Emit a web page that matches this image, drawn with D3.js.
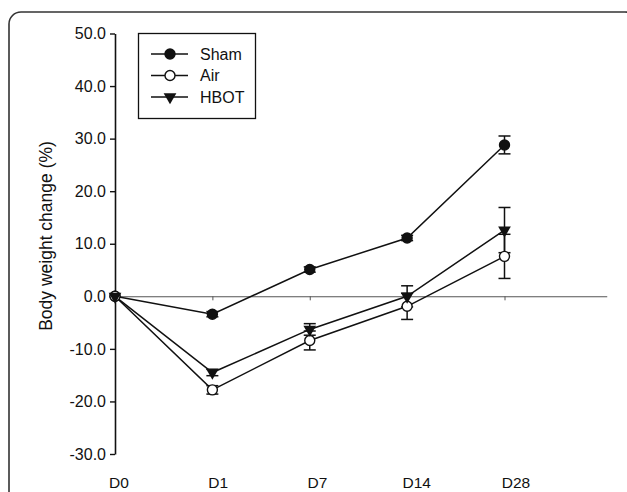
<!DOCTYPE html>
<html>
<head>
<meta charset="utf-8">
<script src="https://cdn.jsdelivr.net/npm/d3@7"></script>
<style>
  body { margin: 0; background: #fff; }
  svg text { font-family: "Liberation Sans", Arial, sans-serif; fill: #111; }
</style>
</head>
<body>
<div id="chart"></div>
<script>
// data
const days = ["D0", "D1", "D7", "D14", "D28"];
const yTicks = [-30, -20, -10, 0, 10, 20, 30, 40, 50];
const shamMean = [0, -3.4, 5.1, 11.1, 28.8];
const shamErr  = [0, 0.5, 0.5, 0.5, 1.7];
const airMean  = [0, -17.8, -8.4, -1.9, 7.6];
const airErr   = [0, 0.8, 1.8, 2.5, 4.2];
const hbotMean = [0, -14.5, -6.3, 0.0, 12.6];
const hbotErr  = [0, 0.6, 1.1, 2.0, 4.3];

const series = [
    { name: "Sham", mean: shamMean, err: shamErr, symbol: "filled" },
    { name: "Air",  mean: airMean,  err: airErr,  symbol: "open" },
    { name: "HBOT", mean: hbotMean, err: hbotErr, symbol: "tri" }
];

const W = 627, H = 492;
const svg = d3.select("#chart").append("svg")
    .attr("width", W)
    .attr("height", H);

// outer rounded frame
svg.append("rect")
    .attr("x", 9).attr("y", 12)
    .attr("width", 628).attr("height", 520)
    .attr("rx", 12)
    .attr("fill", "none")
    .attr("stroke", "#333")
    .attr("stroke-width", 1.6);

const x = d3.scaleLinear().domain([0, 4]).range([115, 504.5]);
const xEnd = 5.05; // zero line runs past the last day
const y = d3.scaleLinear().domain([-30, 50]).range([454, 33.5]);
// category labels sit a little right of their ticks
const xLab = d3.scaleLinear().domain([0, 4]).range([119, 516]);

// Y-axis
const yAxis = svg.append("g")
    .attr("transform", `translate(${x(0)},0)`)
    .call(d3.axisLeft(y).tickValues(yTicks).tickSize(5).tickSizeOuter(0)
        .tickFormat(d => d.toFixed(1)));
yAxis.select(".domain").attr("stroke", "#111").attr("stroke-width", 1.6);
yAxis.selectAll(".tick line").attr("stroke", "#111").attr("stroke-width", 1.4);
yAxis.selectAll(".tick text")
    .attr("x", -9)
    .style("font-size", "16px")
    .style("font-family", "Liberation Sans, Arial, sans-serif")
    .attr("fill", "#111");

// zero line with small ticks
const xz = d3.scaleLinear().domain([0, xEnd]).range([x(0), x(xEnd)]);
const zAxis = svg.append("g")
    .attr("transform", `translate(0,${y(0)})`)
    .call(d3.axisBottom(xz).tickValues(d3.range(days.length)).tickSize(4)
        .tickSizeOuter(0).tickFormat(""));
zAxis.select(".domain").attr("stroke", "#555").attr("stroke-width", 1.1);
zAxis.selectAll(".tick line").attr("stroke", "#555");

// day labels
svg.append("g").selectAll("text")
    .data(days)
    .enter()
    .append("text")
    .attr("x", (d, i) => xLab(i))
    .attr("y", 488)
    .attr("text-anchor", "middle")
    .style("font-size", "15.5px")
    .text(d => d);

// y-axis label
svg.append("text")
    .attr("transform", "rotate(-90)")
    .attr("x", -236)
    .attr("y", 52)
    .attr("text-anchor", "middle")
    .style("font-size", "17.5px")
    .text("Body weight change (%)");

const line = d3.line()
    .x((d, i) => x(i))
    .y(d => y(d));

const triPath = d3.symbol().type(d3.symbolTriangle).size(70)();

function drawMarker(g, kind, cx, cy) {
    if (kind === "tri") {
        g.append("path")
            .attr("d", triPath)
            .attr("transform", `translate(${cx},${cy}) rotate(180)`)
            .attr("fill", "#111");
    } else {
        g.append("circle")
            .attr("cx", cx).attr("cy", cy).attr("r", 5)
            .attr("fill", kind === "filled" ? "#111" : "#fff")
            .attr("stroke", "#111")
            .attr("stroke-width", 1.4);
    }
}

const plot = svg.append("g");

series.forEach(s => {
    // error bars
    const eb = plot.append("g");
    s.mean.forEach((m, i) => {
        if (!s.err[i]) return;
        const cx = x(i), y1 = y(m - s.err[i]), y2 = y(m + s.err[i]);
        eb.append("line").attr("x1", cx).attr("x2", cx).attr("y1", y1).attr("y2", y2);
        eb.append("line").attr("x1", cx - 6).attr("x2", cx + 6).attr("y1", y1).attr("y2", y1);
        eb.append("line").attr("x1", cx - 6).attr("x2", cx + 6).attr("y1", y2).attr("y2", y2);
    });
    eb.selectAll("line").attr("stroke", "#111").attr("stroke-width", 1.5);

    plot.append("path")
        .datum(s.mean)
        .attr("d", line)
        .attr("fill", "none")
        .attr("stroke", "#111")
        .attr("stroke-width", 1.5);
});

// markers on top
series.forEach(s => {
    const mg = plot.append("g");
    s.mean.forEach((m, i) => drawMarker(mg, s.symbol, x(i), y(m)));
});

// legend
const legend = svg.append("g");
legend.append("rect")
    .attr("x", 138.5).attr("y", 33.5)
    .attr("width", 117).attr("height", 85)
    .attr("fill", "#fff")
    .attr("stroke", "#111")
    .attr("stroke-width", 1.3);
series.forEach((s, i) => {
    const ly = 54 + i * 21.5;
    legend.append("line")
        .attr("x1", 151).attr("x2", 188)
        .attr("y1", ly).attr("y2", ly)
        .attr("stroke", "#111").attr("stroke-width", 1.5);
    drawMarker(legend, s.symbol, 170, ly);
    legend.append("text")
        .attr("x", 200)
        .attr("y", ly + 5.5)
        .style("font-size", "16px")
        .text(s.name);
});
</script>
</body>
</html>
